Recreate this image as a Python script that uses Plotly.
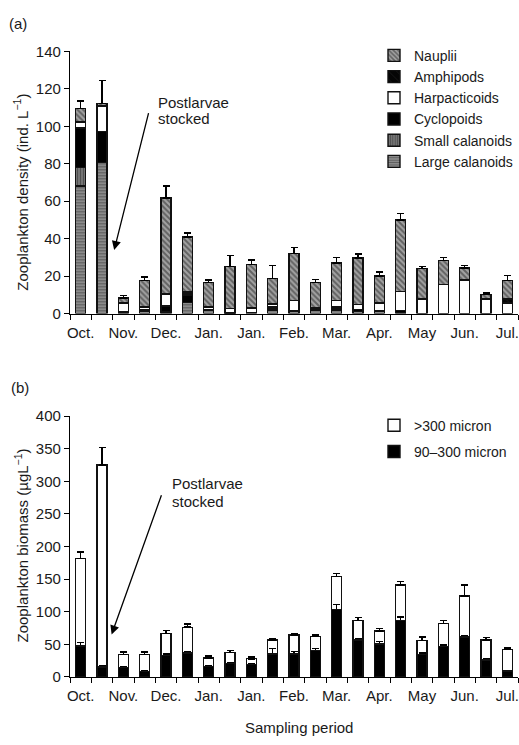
import plotly.graph_objects as go

month_labels = ["Oct.", "Nov.", "Dec.", "Jan.", "Jan.", "Feb.", "Mar.", "Apr.", "May", "Jun.", "Jul."]
n_samples = 21

# Panel (a) zooplankton density (ind. L-1), stacked bottom -> top
large_calanoids = [68, 80.5, 0.5, 1.0, 0.8, 6.0, 1.5, 0.3, 0.5, 1.5, 1.0, 1.5, 1.5, 1.1, 1.0, 0.5, 0, 0, 0, 0, 0]
small_calanoids = [10, 0, 0, 0, 0, 0, 0, 0, 0, 1.0, 0, 0, 1.0, 0, 0, 0, 0, 0, 0, 0, 0]
cyclopoids = [21, 16.8, 0.5, 1.0, 3.2, 4.0, 0.8, 0, 0, 1.0, 0.4, 0.5, 1.0, 1.2, 0.8, 1.3, 0, 0, 0, 0, 0]
harpacticoids = [3, 13.5, 4.6, 1.5, 6.4, 1.0, 1.2, 2.3, 2.5, 1.7, 5.6, 1.0, 3.5, 2.6, 3.8, 9.9, 7.8, 15.6, 17.9, 7.8, 5.6]
amphipods = [0.5, 0, 0, 0, 0, 0.5, 0, 0, 0, 0, 0, 0, 0, 0, 0, 0, 0, 0, 0, 0, 2.2]
nauplii = [7.1, 1.4, 2.7, 14.2, 51.4, 29.4, 13.0, 22.6, 23.1, 13.4, 25.2, 13.5, 20.0, 24.7, 14.4, 38.2, 16.2, 12.8, 6.5, 2.3, 9.9]
density_err = [3.8, 12.1, 1.3, 1.8, 6.4, 2.2, 1.4, 5.8, 2.6, 7.2, 3.1, 1.8, 3.0, 2.1, 2.1, 3.5, 1.2, 1.5, 1.4, 0.9, 2.6]

# Panel (b) zooplankton biomass (ug L-1)
biomass_90_300 = [47.7, 15.5, 14.2, 8.5, 32.7, 36.8, 16.3, 20.3, 18.8, 35.2, 35.2, 40.2, 103.8, 56.8, 50.2, 86.2, 34.2, 46.8, 61.2, 26.2, 9.3]
err_90_300 = [5.1, 2.0, 1.3, 1.5, 2.3, 2.0, 1.5, 1.7, 1.2, 8.6, 3.8, 3.6, 7.4, 2.2, 3.8, 5.6, 2.6, 2.4, 2.6, 2.3, 0.7]
biomass_300 = [134.1, 309.8, 20.1, 25.8, 33.6, 39.4, 12.5, 17.5, 9.0, 21.6, 29.0, 21.6, 50.4, 29.4, 20.0, 55.1, 22.0, 35.0, 63.0, 30.6, 32.4]
err_300 = [9.5, 26.5, 3.9, 4.2, 4.9, 5.0, 3.2, 2.7, 2.5, 2.2, 2.5, 2.4, 4.5, 5.0, 4.0, 4.9, 5.0, 4.4, 17.1, 3.4, 2.5]

x = list(range(n_samples))
FONT = "Liberation Sans, Arial, sans-serif"
TXT = "#1a1a1a"
W, H = 519, 745
L, R = 70, 1
BW = 0.47
LW = 1.4

def ypix(p):
    return (H - p) / H

def px_x(p):
    return (p - L) / (W - L - R)

fig = go.Figure()

def add_bar(name, y, pattern, color, xa, ya, legend, err=None, rank=None):
    kw = {}
    if err is not None:
        kw["error_y"] = dict(type="data", array=err, arrayminus=[0] * len(err), symmetric=False,
                             color="black", thickness=1.5, width=3.5)
    if rank is not None:
        kw["legendrank"] = rank
    marker = dict(color=color, line=dict(color="#111111", width=LW))
    if pattern is not None:
        marker["pattern"] = pattern
    fig.add_trace(go.Bar(x=x, y=y, name=name, width=BW, marker=marker, legendgroup=name,
                         xaxis=xa, yaxis=ya, legend=legend, **kw))

# (a) stack, bottom first
add_bar("Large calanoids", large_calanoids,
        dict(shape="-", bgcolor="#999999", fgcolor="#1e1e1e", size=3, solidity=0.5), "#999999", "x", "y", "legend")
add_bar("Small calanoids", small_calanoids,
        dict(shape="|", bgcolor="#808080", fgcolor="#1e1e1e", size=3, solidity=0.5), "#808080", "x", "y", "legend")
add_bar("Cyclopoids", cyclopoids, None, "#000000", "x", "y", "legend")
add_bar("Harpacticoids", harpacticoids, None, "#ffffff", "x", "y", "legend")
add_bar("Amphipods", amphipods,
        dict(shape="\\", bgcolor="#050505", fgcolor="#3a3a3a", size=7, solidity=0.12), "#050505", "x", "y", "legend")
add_bar("Nauplii", nauplii,
        dict(shape="\\", bgcolor="#a2a2a2", fgcolor="#222222", size=4, solidity=0.5), "#a2a2a2", "x", "y", "legend",
        err=density_err)

# (b)
add_bar("90\u2013300 micron", biomass_90_300, None, "#000000", "x2", "y2", "legend2", err=err_90_300, rank=2)
add_bar(">300 micron", biomass_300, None, "rgba(255,255,255,0)", "x2", "y2", "legend2", err=err_300, rank=1)

xaxis_common = dict(
    range=[-0.5, 20.5], tickmode="array", tickvals=list(range(0, 21, 2)), ticktext=month_labels,
    ticks="outside", ticklen=5, tickcolor="rgba(0,0,0,0)", showgrid=False, zeroline=False,
    showline=True, linecolor="black", linewidth=1.3, ticklabeloverflow="allow",
    tickfont=dict(family=FONT, size=15, color=TXT),
    minor=dict(tickmode="array", tickvals=[i - 0.5 for i in range(22)], ticks="outside",
               ticklen=5, tickcolor="black", tickwidth=1.3, showgrid=False),
)
yaxis_common = dict(
    ticks="outside", ticklen=5, tickwidth=1.3, tickcolor="black", showgrid=False, zeroline=False,
    showline=True, linecolor="black", linewidth=1.3,
    tickfont=dict(family=FONT, size=15, color=TXT),
)

ya_dom = [ypix(311.7), ypix(43.3)]
yb_dom = [ypix(683.5), ypix(416.7)]

LEG_FONT = dict(family=FONT, size=14, color=TXT)
fig.update_layout(
    width=W, height=H, margin=dict(l=L, r=R, t=0, b=0),
    paper_bgcolor="white", plot_bgcolor="white", barmode="stack",
    font=dict(family=FONT, size=15, color=TXT),
    xaxis=dict(xaxis_common, anchor="y", domain=[0, 1]),
    yaxis=dict(yaxis_common, range=[0, 140], dtick=20, anchor="x", domain=ya_dom),
    xaxis2=dict(xaxis_common, anchor="y2", domain=[0, 1]),
    yaxis2=dict(yaxis_common, range=[0, 400], dtick=50, anchor="x2", domain=yb_dom),
    legend=dict(x=px_x(374), xanchor="left", y=ypix(31.5), yanchor="top",
                traceorder="reversed", font=LEG_FONT, bgcolor="rgba(0,0,0,0)", tracegroupgap=0),
    legend2=dict(x=px_x(374), xanchor="left", y=ypix(410), yanchor="top",
                 traceorder="grouped", font=LEG_FONT, bgcolor="rgba(0,0,0,0)", tracegroupgap=5),
    showlegend=True,
)

ann = []
ann.append(dict(text="(a)", x=px_x(7), y=ypix(15), xref="paper", yref="paper", xanchor="left",
                yanchor="middle", showarrow=False, font=dict(size=15)))
ann.append(dict(text="(b)", x=px_x(9), y=ypix(387), xref="paper", yref="paper", xanchor="left",
                yanchor="middle", showarrow=False, font=dict(size=15)))
ann.append(dict(text="Zooplankton density (ind. L<sup>\u22121</sup>)", x=px_x(21), y=ypix(188),
                xref="paper", yref="paper", xanchor="center", yanchor="middle", textangle=-90,
                showarrow=False, font=dict(size=15)))
ann.append(dict(text="Zooplankton biomass (\u00b5gL<sup>\u22121</sup>)", x=px_x(21), y=ypix(549),
                xref="paper", yref="paper", xanchor="center", yanchor="middle", textangle=-90,
                showarrow=False, font=dict(size=15)))
ann.append(dict(text="Sampling period", x=px_x(299), y=ypix(735), xref="paper", yref="paper",
                xanchor="center", yanchor="middle", showarrow=False, font=dict(size=15)))
for txt, yp in [("Postlarvae", 96), ("stocked", 112)]:
    ann.append(dict(text=txt, x=px_x(156), y=ypix(yp), xref="paper", yref="paper", xanchor="left",
                    yanchor="middle", showarrow=False, font=dict(size=15)))
for txt, yp in [("Postlarvae", 486), ("stocked", 504)]:
    ann.append(dict(text=txt, x=px_x(170), y=ypix(yp), xref="paper", yref="paper", xanchor="left",
                    yanchor="middle", showarrow=False, font=dict(size=15)))
ann.append(dict(text="", x=1.57, y=33.9, xref="x", yref="y", ax=3.2, ay=107.8, axref="x", ayref="y",
                showarrow=True, arrowhead=2, arrowsize=1.4, arrowwidth=1.3, arrowcolor="black"))
ann.append(dict(text="", x=1.45, y=65, xref="x2", yref="y2", ax=3.81, ay=281, axref="x2", ayref="y2",
                showarrow=True, arrowhead=2, arrowsize=1.4, arrowwidth=1.3, arrowcolor="black"))
fig.update_layout(annotations=ann)

fig.write_html("out.html", config={"displayModeBar": False},
               post_script="document.body.style.margin='0px';document.body.style.overflow='hidden';")
